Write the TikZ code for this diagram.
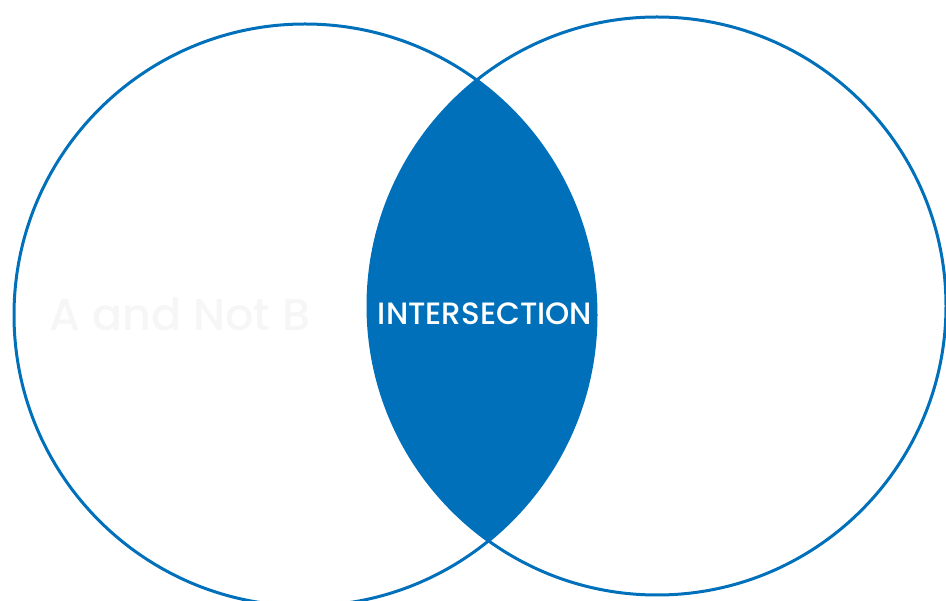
\documentclass[tikz,border=0pt]{standalone}
\usepackage{fontspec}
\newfontfamily\pop{Poppins Medium}
\definecolor{vblue}{HTML}{0070BA}
\definecolor{faint}{HTML}{F6F6F6}
\begin{document}
\begin{tikzpicture}[x=1pt,y=-1pt,
  circ/.style={draw=vblue,line width=3pt},
  lbl/.style={font=\pop,inner sep=0pt}]
\useasboundingbox (0,0) rectangle (946,601);
\coordinate (ca) at (305,315);
\coordinate (cb) at (657,306);
\begin{scope}
  \clip (ca) circle[radius=291];
  \fill[vblue] (cb) circle[radius=289];
\end{scope}
\draw[circ] (ca) circle[radius=291];
\draw[circ] (cb) circle[radius=289];
\node[lbl,text=faint] (anb) at (180,314) {\resizebox{260pt}{!}{A and Not B}};
\node[lbl,text=white] (int) at (485,314) {\resizebox{214pt}{!}{INTERSECTION}};
\end{tikzpicture}
\end{document}
